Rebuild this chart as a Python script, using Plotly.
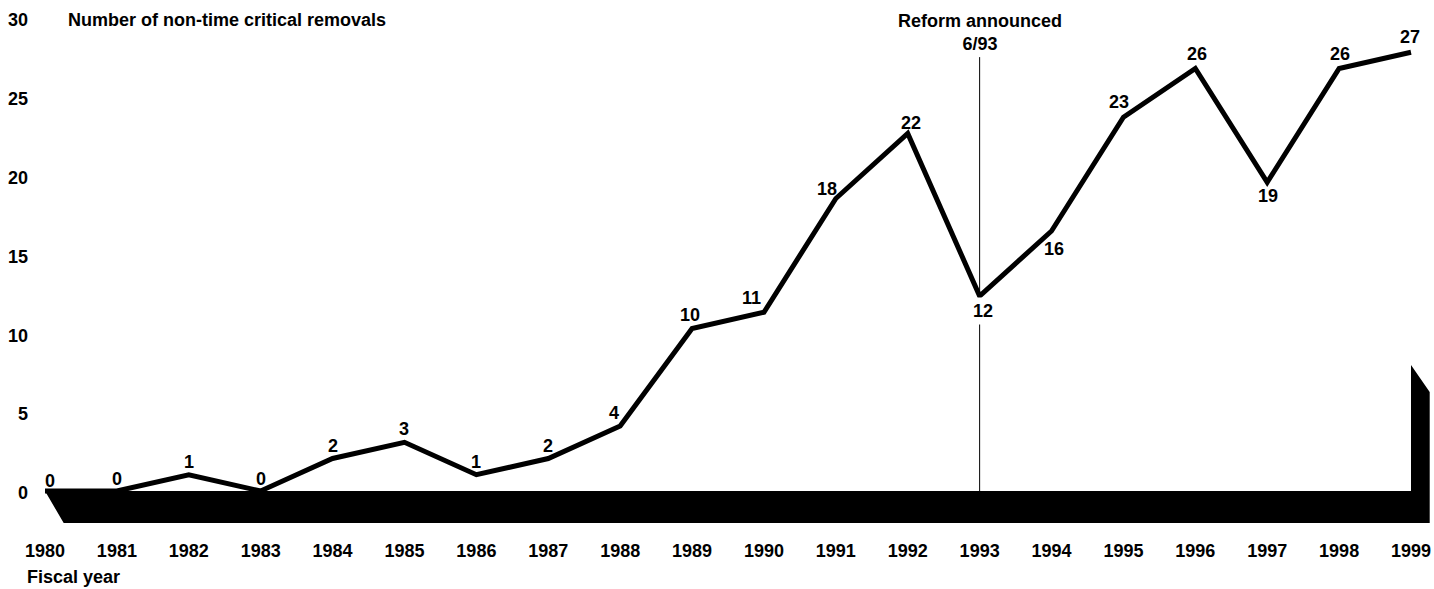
import plotly.graph_objects as go

# ---- data ----
years = list(range(1980, 2000))
removals = [0, 0, 1, 0, 2, 3, 1, 2, 4, 10, 11, 18, 22, 12, 16, 23, 26, 19, 26, 27]
y_ticks = [0, 5, 10, 15, 20, 25, 30]
reform_year = 1993
reform_label = "Reform announced<br>6/93"
y_title = "Number of non-time critical removals"
x_title = "Fiscal year"

# ---- style: label offsets in px (dx, dy screen) ----
label_offsets = [(5, -10), (0, -12), (0, -13), (0, -12), (0, -13), (0, -13), (0, -13), (0, -13),
                 (-6, -13), (-2, -14), (-12, -14), (-9, -10), (3, -11), (3, 15), (2, 18),
                 (-4, -15), (2, -14), (1, 14), (1, -14), (-1, -15)]

FONT = "Liberation Sans, Arial, sans-serif"
FS = 18

# floor / wall decoration geometry (depth in axis units)
depth_x = 0.26
depth_y = -1.97
wall_front = 7.75
wall_back = 6.09
x0, x1 = years[0], years[-1]
floor_x = [x0, x1, x1, x1 + depth_x, x1 + depth_x, x0 + depth_x, x0]
floor_y = [0, 0, wall_front, wall_back, depth_y, depth_y, 0]

fig = go.Figure()
fig.add_trace(go.Scatter(x=floor_x, y=floor_y, mode="lines", fill="toself",
                         fillcolor="black", line=dict(color="black", width=0),
                         hoverinfo="skip", showlegend=False))
fig.add_trace(go.Scatter(x=years, y=removals, mode="lines",
                         line=dict(color="black", width=5),
                         showlegend=False))
# invisible anchor trace so the tick-label axis (y2) is drawn
fig.add_trace(go.Scatter(x=[years[0]], y=[y_ticks[0]], yaxis="y2", mode="markers",
                         marker=dict(opacity=0), hoverinfo="skip", showlegend=False))

annotations = []
for yr, v, (dx, dy) in zip(years, removals, label_offsets):
    annotations.append(dict(
        x=yr, y=v, xref="x", yref="y", text=str(v), showarrow=False,
        xshift=dx, yshift=-dy,
        font=dict(family=FONT, size=FS, color="black", weight="bold"),
        bgcolor="white" if yr == reform_year else "rgba(0,0,0,0)",
        borderpad=3 if yr == reform_year else 0,
    ))

annotations.append(dict(x=reform_year, xref="x", y=1 - 32 / 532, yref="paper",
                        text=reform_label, showarrow=False, align="center",
                        xanchor="center", yanchor="middle",
                        font=dict(family=FONT, size=FS, color="black", weight="bold")))
annotations.append(dict(x=(66 - 40) / 1390, xref="paper", y=1 - 20 / 532, yref="paper",
                        text=y_title, showarrow=False, xanchor="left", yanchor="middle",
                        font=dict(family=FONT, size=FS, color="black", weight="bold")))
annotations.append(dict(x=(25 - 40) / 1390, xref="paper", y=(532 - 577) / 532, yref="paper",
                        text=x_title, showarrow=False, xanchor="left", yanchor="middle",
                        font=dict(family=FONT, size=FS, color="black", weight="bold")))

fig.add_shape(type="line", x0=reform_year, x1=reform_year, y0=0, y1=26.7,
              xref="x", yref="y", line=dict(color="black", width=1), layer="below")

px_per_year = 71.895
xmin = 1980 - 5 / px_per_year
xmax = xmin + 1390 / px_per_year

fig.update_layout(
    width=1434, height=589,
    margin=dict(l=40, r=4, t=0, b=57),
    paper_bgcolor="white", plot_bgcolor="white",
    annotations=annotations,
    xaxis=dict(range=[xmin, xmax], tickmode="array", tickvals=years,
               ticktext=[str(y) for y in years], showgrid=False, zeroline=False,
               showline=False, ticks="", ticklabelstandoff=6,
               tickfont=dict(family=FONT, size=FS, color="black", weight="bold")),
    yaxis=dict(range=[-2.523, 30.215], showgrid=False, zeroline=False,
               showline=False, showticklabels=False, ticks=""),
    yaxis2=dict(range=[-2.474, 31.268], overlaying="y", side="left", anchor="x",
                tickmode="array", tickvals=y_ticks, showgrid=False, zeroline=False,
                showline=False, ticks="", ticklabelstandoff=11,
                tickfont=dict(family=FONT, size=FS, color="black", weight="bold")),
    showlegend=False,
)

fig.write_html("out.html", config={"displayModeBar": False},
               post_script="document.body.style.margin='0';document.body.style.overflow='hidden';")
